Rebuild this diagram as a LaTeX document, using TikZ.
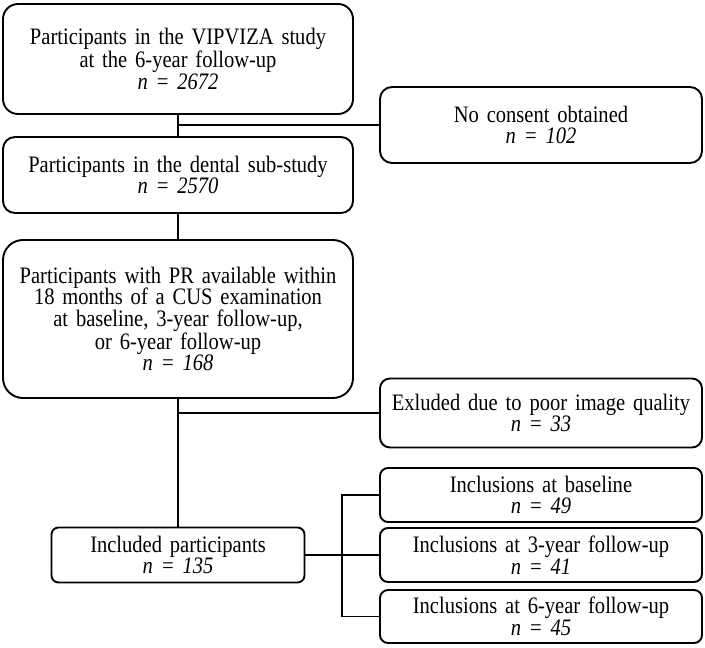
\documentclass[tikz,border=0pt]{standalone}
\usepackage{fontspec}
\setmainfont{Liberation Serif}[FakeStretch=0.87, WordSpace=0.72]
\begin{document}
\begin{tikzpicture}[x=1pt,y=-1pt,
  box/.style={draw, line width=1.9pt, rounded corners=#1, inner sep=0pt, align=center,
    font=\fontsize{23.6}{21.7}\selectfont},
  box/.default=10pt,
  wh/.style 2 args={text width=#1 pt, minimum height=#2 pt},
  conn/.style={line width=1.9pt}]
\useasboundingbox (0,0) rectangle (705,648);
% main column
\node[box=15pt, wh={350}{110}] (b1) at (178,59) {Participants in the VIPVIZA study\\at the 6-year follow-up\\\textit{n = 2672}};
\node[box=12pt, wh={350}{76}] (b2) at (178,175) {Participants in the dental sub-study\\\textit{n = 2570}};
\node[box=20pt, wh={350}{158}] (b3) at (178,319) {Participants with PR available within\\18 months of a CUS examination\\at baseline, 3-year follow-up,\\or 6-year follow-up\\\textit{n = 168}};
\node[box=7pt, wh={253}{55}] (inc) at (178,555) {Included participants\\\textit{n = 135}};
% side column
\node[box=12pt, wh={322}{76}] (nc) at (541,125) {No consent obtained\\\textit{n = 102}};
\node[box=10pt, wh={322}{69}] (ex) at (541,413) {Exluded due to poor image quality\\\textit{n = 33}};
\node[box=8pt, wh={322}{54}] (y0) at (541,495) {Inclusions at baseline\\\textit{n = 49}};
\node[box=8pt, wh={322}{54}] (y3) at (541,555) {Inclusions at 3-year follow-up\\\textit{n = 41}};
\node[box=8pt, wh={322}{53}] (y6) at (541,616.5) {Inclusions at 6-year follow-up\\\textit{n = 45}};
% connectors
\draw[conn] (b1.south) -- (b2.north);
\coordinate (j1) at (b1.south |- nc.west);
\draw[conn] (j1) -- (nc.west);
\draw[conn] (b2.south) -- (b3.north);
\draw[conn] (b3.south) -- (inc.north);
\coordinate (j2) at (b3.south |- ex.west);
\draw[conn] (j2) -- (ex.west);
\draw[conn] (inc.east) -- (y3.west);
\coordinate (j3) at (342,555);
\draw[conn] (y0.west) -- (j3 |- y0.west) -- (j3 |- y6.west) -- (y6.west);
\end{tikzpicture}
\end{document}
